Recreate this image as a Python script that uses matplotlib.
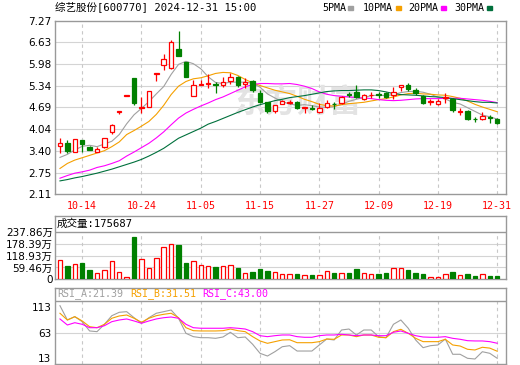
import matplotlib
matplotlib.use("Agg")
from matplotlib import pyplot as plt
from matplotlib.patches import Rectangle

# DATA
dates = ["10-09", "10-10", "10-11", "10-14", "10-15", "10-16", "10-17", "10-18", "10-21", "10-22",
         "10-23", "10-24", "10-25", "10-28", "10-29", "10-30", "10-31", "11-01", "11-04", "11-05",
         "11-06", "11-07", "11-08", "11-11", "11-12", "11-13", "11-14", "11-15", "11-18", "11-19",
         "11-20", "11-21", "11-22", "11-25", "11-26", "11-27", "11-28", "11-29", "12-02", "12-03",
         "12-04", "12-05", "12-06", "12-09", "12-10", "12-11", "12-12", "12-13", "12-16", "12-17",
         "12-18", "12-19", "12-20", "12-23", "12-24", "12-25", "12-26", "12-27", "12-30", "12-31"]

opens = [3.53, 3.64, 3.37, 3.72, 3.51, 3.37, 3.50, 3.97, 4.56, 5.04,
         5.56, 4.66, 4.71, 5.69, 5.95, 5.85, 6.43, 6.03, 5.04, 5.37,
         5.40, 5.39, 5.36, 5.48, 5.60, 5.38, 5.48, 5.11, 4.84, 4.59,
         4.80, 4.83, 4.84, 4.67, 4.68, 4.56, 4.71, 4.80, 4.81, 5.09,
         5.16, 4.93, 5.05, 5.09, 5.13, 5.06, 5.29, 5.36, 5.21, 5.03,
         4.85, 4.79, 4.98, 4.93, 4.55, 4.59, 4.35, 4.35, 4.40, 4.34]
highs = [3.78, 3.72, 3.75, 3.73, 3.53, 3.52, 3.78, 4.18, 4.58, 5.05,
         5.57, 5.01, 5.19, 5.70, 6.27, 6.70, 6.96, 6.04, 5.50, 5.50,
         5.67, 5.45, 5.60, 5.70, 5.62, 5.56, 5.50, 5.21, 4.86, 4.77,
         4.90, 4.91, 4.89, 4.71, 4.75, 4.83, 4.91, 4.86, 5.03, 5.16,
         5.36, 5.09, 5.14, 5.15, 5.15, 5.30, 5.37, 5.41, 5.26, 5.06,
         4.93, 4.93, 5.11, 4.96, 4.66, 4.61, 4.41, 4.56, 4.46, 4.37]
lows = [3.32, 3.32, 3.36, 3.36, 3.41, 3.35, 3.47, 3.91, 4.48, 5.04,
        4.76, 4.51, 4.70, 5.47, 5.80, 5.84, 6.22, 5.58, 5.03, 5.36,
        5.26, 5.11, 5.31, 5.38, 5.31, 5.26, 5.16, 4.81, 4.53, 4.51,
        4.78, 4.78, 4.63, 4.51, 4.61, 4.51, 4.66, 4.63, 4.79, 5.00,
        4.96, 4.91, 4.96, 4.96, 4.96, 4.95, 5.19, 5.19, 5.06, 4.80,
        4.76, 4.76, 4.83, 4.56, 4.46, 4.31, 4.26, 4.31, 4.23, 4.20]
closes = [3.62, 3.39, 3.74, 3.60, 3.43, 3.45, 3.77, 4.17, 4.57, 5.05,
          4.81, 4.71, 5.18, 5.70, 6.13, 6.63, 6.23, 5.60, 5.36, 5.38,
          5.42, 5.37, 5.45, 5.58, 5.36, 5.45, 5.21, 4.86, 4.58, 4.76,
          4.88, 4.85, 4.66, 4.69, 4.63, 4.66, 4.81, 4.78, 5.01, 5.07,
          4.99, 5.06, 5.07, 5.07, 4.99, 5.16, 5.36, 5.23, 5.11, 4.83,
          4.87, 4.89, 5.00, 4.61, 4.57, 4.34, 4.33, 4.43, 4.38, 4.22]

ma5 = [3.20, 3.29, 3.42, 3.53, 3.56, 3.52, 3.60, 3.68, 3.88, 4.20,
       4.47, 4.66, 4.86, 5.09, 5.31, 5.67, 5.97, 6.06, 5.99, 5.84,
       5.60, 5.43, 5.40, 5.44, 5.44, 5.44, 5.41, 5.29, 5.09, 4.97,
       4.86, 4.79, 4.75, 4.77, 4.74, 4.70, 4.69, 4.71, 4.78, 4.87,
       4.93, 4.98, 5.04, 5.05, 5.04, 5.07, 5.13, 5.16, 5.17, 5.14,
       5.08, 4.99, 4.94, 4.84, 4.79, 4.68, 4.57, 4.46, 4.41, 4.34]
ma10 = [2.87, 3.02, 3.12, 3.19, 3.26, 3.33, 3.40, 3.52, 3.66, 3.88,
        4.00, 4.13, 4.27, 4.48, 4.75, 5.07, 5.32, 5.46, 5.54, 5.57,
        5.63, 5.70, 5.73, 5.72, 5.64, 5.52, 5.42, 5.34, 5.27, 5.20,
        5.15, 5.10, 5.02, 4.93, 4.86, 4.78, 4.74, 4.73, 4.77, 4.80,
        4.82, 4.84, 4.88, 4.92, 4.95, 5.00, 5.06, 5.10, 5.11, 5.09,
        5.08, 5.06, 5.05, 5.01, 4.96, 4.88, 4.78, 4.70, 4.63, 4.56]
ma20 = [2.58, 2.66, 2.73, 2.77, 2.82, 2.90, 2.95, 3.02, 3.10, 3.24,
        3.36, 3.49, 3.62, 3.78, 3.96, 4.17, 4.37, 4.52, 4.63, 4.73,
        4.82, 4.92, 5.00, 5.10, 5.20, 5.30, 5.37, 5.40, 5.40, 5.39,
        5.39, 5.40, 5.37, 5.32, 5.25, 5.15, 5.08, 5.04, 5.02, 5.00,
        4.98, 4.97, 4.95, 4.92, 4.90, 4.89, 4.90, 4.92, 4.94, 4.95,
        4.95, 4.95, 4.96, 4.96, 4.96, 4.94, 4.92, 4.90, 4.87, 4.83]
ma30 = [2.50, 2.54, 2.59, 2.63, 2.68, 2.73, 2.79, 2.85, 2.92, 2.99,
        3.06, 3.14, 3.24, 3.35, 3.47, 3.62, 3.77, 3.87, 3.97, 4.07,
        4.19, 4.27, 4.36, 4.45, 4.54, 4.62, 4.70, 4.77, 4.83, 4.89,
        4.93, 4.98, 5.01, 5.04, 5.08, 5.12, 5.16, 5.18, 5.19, 5.19,
        5.20, 5.21, 5.21, 5.19, 5.15, 5.10, 5.07, 5.06, 5.05, 5.03,
        5.01, 5.00, 4.98, 4.95, 4.92, 4.89, 4.86, 4.84, 4.84, 4.82]

# volume in 万 (10k lots)
volumes = [96, 67, 76, 82, 47, 30, 45, 91, 37, 10,
           214, 103, 56, 106, 162, 177, 174, 84, 91, 71,
           66, 62, 66, 71, 57, 32, 37, 52, 42, 37,
           27, 27, 27, 20, 22, 20, 42, 32, 32, 32,
           52, 32, 27, 27, 32, 56, 56, 47, 32, 27,
           13, 13, 27, 39, 20, 27, 17, 25, 17, 17.5687]

rsi_a = [97.1, 76.5, 81.3, 74.1, 60.7, 59.7, 70.3, 82.7, 87.6, 88.5,
         79.8, 71.8, 79.8, 86.2, 88.5, 90.9, 79.0, 57.3, 52.5, 51.0,
         51.0, 50.1, 52.0, 58.8, 51.0, 52.0, 41.5, 28.5, 24.6, 30.8,
         38.0, 39.5, 31.8, 31.8, 31.8, 40.5, 49.1, 47.7, 62.1, 63.5,
         54.9, 62.1, 62.1, 52.5, 51.0, 70.3, 76.5, 64.6, 47.7, 36.6,
         39.5, 40.5, 49.1, 27.1, 27.1, 21.3, 20.3, 30.8, 28.5, 21.39]
rsi_b = [86.2, 76.5, 81.3, 75.1, 66.9, 65.4, 70.3, 79.0, 82.3, 83.7,
         79.0, 73.2, 79.0, 82.7, 84.7, 86.2, 79.8, 65.4, 61.1, 60.7,
         60.7, 60.7, 61.1, 63.5, 61.1, 59.7, 52.5, 46.3, 42.9, 45.3,
         47.7, 48.0, 43.8, 43.8, 43.8, 45.3, 49.1, 48.7, 54.9, 54.9,
         52.5, 54.9, 54.9, 51.6, 51.0, 59.7, 63.1, 57.3, 50.1, 45.3,
         45.3, 45.3, 48.7, 40.5, 39.0, 34.3, 33.3, 37.2, 36.0, 31.51]
rsi_c = [78.0, 69.3, 72.6, 70.3, 65.4, 65.4, 68.3, 74.1, 76.5, 78.0,
         75.1, 71.8, 75.1, 78.0, 79.8, 80.8, 79.0, 70.3, 65.4, 64.6,
         64.6, 64.6, 64.6, 65.4, 64.6, 63.5, 59.7, 53.9, 52.5, 53.9,
         54.9, 54.9, 52.5, 51.6, 51.6, 53.9, 54.9, 54.9, 55.9, 54.9,
         53.9, 54.9, 54.9, 53.9, 53.9, 58.8, 60.7, 57.3, 53.9, 52.0,
         51.6, 51.6, 52.5, 50.1, 48.7, 46.7, 46.3, 46.3, 45.3, 43.0]

price_ticks = [2.11, 2.75, 3.40, 4.04, 4.69, 5.34, 5.98, 6.63, 7.27]
vol_ticks = [0, 59.46, 118.93, 178.39, 237.86]
rsi_tick_labels = ["113", "63", "13"]

title = "综艺股份[600770] 2024-12-31 15:00"
vol_title = "成交量:175687"

# STYLE
RED = "#ff0000"
GREEN = "#008000"
FRAME = "#999999"
GRID = "#d4d4d4"
MA_COLORS = ["#a0a0a0", "#f5a000", "#ff00ff", "#00703c"]
MONO = ["DejaVu Sans Mono", "Noto Sans CJK SC"]
SANS = ["DejaVu Sans", "Noto Sans CJK SC"]

W, H = 520, 365
fig = plt.figure(figsize=(W / 100, H / 100), dpi=100)


def px_axes(left, top, right, bottom):
    """Creates axes from pixel edges"""
    return fig.add_axes([left / W, 1 - bottom / H, (right - left) / W, (bottom - top) / H])


def px_text(x, y, s, **kw):
    fig.text(x / W, 1 - y / H, s, va="center", **kw)


x = list(range(len(dates)))
label_idx = list(range(3, len(dates), 8))
up = [c >= o for o, c in zip(opens, closes)]
XLIM = (-0.67, 60.15)


def frame(ax):
    for s in ax.spines.values():
        s.set_color(FRAME)
        s.set_linewidth(1)
    ax.set_xlim(*XLIM)
    ax.tick_params(length=0)


# PRICE PANEL
ax = px_axes(55, 20.7, 505.7, 194)
frame(ax)
ax.set_ylim(price_ticks[0], price_ticks[-1])
for t in price_ticks[1:-1]:
    ax.axhline(t, color=GRID, lw=0.8, zorder=0)
for i in label_idx:
    ax.axvline(i, color="#c8c8c8", lw=0.8, ls=(0, (3, 3)), zorder=0)

# faint watermark behind the candles
ax.text(32.0, 4.80, "东方财富", fontsize=23, fontweight="bold", fontstyle="italic",
        color="#e3e3e3", family="Noto Sans CJK SC", ha="center", va="center", zorder=0)

for line, col in zip([ma5, ma10, ma20, ma30], MA_COLORS):
    ax.plot(x, line, color=col, lw=0.8, zorder=2)

bw = 0.6
for i in x:
    o, h, l, c = opens[i], highs[i], lows[i], closes[i]
    if up[i]:
        ax.vlines(i, c, h, color=RED, lw=0.9, zorder=3)
        ax.vlines(i, l, o, color=RED, lw=0.9, zorder=3)
        ax.add_patch(Rectangle((i - bw / 2, o), bw, max(c - o, 0.004), facecolor="white",
                               edgecolor=RED, lw=0.9, zorder=4))
    else:
        ax.vlines(i, l, h, color=GREEN, lw=0.9, zorder=3)
        ax.add_patch(Rectangle((i - bw / 2, c), bw, max(o - c, 0.004), facecolor=GREEN,
                               edgecolor=GREEN, lw=0.9, zorder=4))

ax.set_yticks(price_ticks)
ax.set_yticklabels(["%.2f" % t for t in price_ticks], fontsize=7.5)
ax.tick_params(axis="y", pad=2.5)
ax.set_xticks(label_idx)
ax.set_xticklabels([dates[i] for i in label_idx], color=RED, fontsize=7.2, family=MONO)
ax.tick_params(axis="x", pad=5)

px_text(55, 8, title, fontsize=7.6, family=MONO)
legend_pos = [(322, 348), (363, 396), (408, 441), (454, 487)]
for (tx, sx), name, col in zip(legend_pos, ["5PMA", "10PMA", "20PMA", "30PMA"], MA_COLORS):
    px_text(tx, 8, name, fontsize=7.2, family=MONO)
    fig.patches.append(Rectangle((sx / W, 1 - 10 / H), 5 / W, 4 / H, color=col,
                                 transform=fig.transFigure, figure=fig))

# VOLUME PANEL
vax = px_axes(55, 215.7, 505.7, 279.3)
frame(vax)
vtop = vol_ticks[-1] * 63.6 / 47.3
vax.set_ylim(0, vtop)
vax.axhline(vol_ticks[-1], color=FRAME, lw=1)
for t in vol_ticks[1:-1]:
    vax.axhline(t, color=GRID, lw=0.8, zorder=0)
for i in label_idx:
    vax.vlines(i, 0, vol_ticks[-1], color="#c8c8c8", lw=0.8, ls=(0, (3, 3)), zorder=0)
for i in x:
    if up[i]:
        vax.add_patch(Rectangle((i - bw / 2, 0), bw, volumes[i], facecolor="white",
                                edgecolor=RED, lw=0.9, zorder=3))
    else:
        vax.add_patch(Rectangle((i - bw / 2, 0), bw, volumes[i], facecolor=GREEN,
                                edgecolor=GREEN, lw=0.9, zorder=3))
vax.set_yticks(vol_ticks)
vax.set_yticklabels(["0"] + ["%.2f万" % t for t in vol_ticks[1:]], fontsize=7.5, family=SANS)
vax.tick_params(axis="y", pad=1.5)
vax.set_xticks([])
px_text(57, 224, vol_title, fontsize=7.6, family=MONO)

# RSI PANEL
rax = px_axes(55, 288, 505.7, 364)
frame(rax)
rax.set_ylim(13.1, 122.6)
rax.axhline(104.3, color=FRAME, lw=1)
rax.axhline(57.3, color=GRID, lw=0.8, zorder=0)
for i in label_idx:
    rax.vlines(i, 13.1, 104.3, color="#c8c8c8", lw=0.8, ls=(0, (3, 3)), zorder=0)
rax.plot(x, rsi_a, color=MA_COLORS[0], lw=0.8)
rax.plot(x, rsi_b, color=MA_COLORS[1], lw=0.8)
rax.plot(x, rsi_c, color=MA_COLORS[2], lw=0.8)
rax.set_yticks([95.2, 57.3, 21.3])
rax.set_yticklabels(rsi_tick_labels, fontsize=7.5)
rax.tick_params(axis="y", pad=2.5)
rax.set_xticks([])
px_text(57, 294, "RSI_A:%.2f" % rsi_a[-1], fontsize=7.2, family=MONO, color=MA_COLORS[0])
px_text(130, 294, "RSI_B:%.2f" % rsi_b[-1], fontsize=7.2, family=MONO, color=MA_COLORS[1])
px_text(202, 294, "RSI_C:%.2f" % rsi_c[-1], fontsize=7.2, family=MONO, color=MA_COLORS[2])

fig.savefig("out.png", dpi=100)
